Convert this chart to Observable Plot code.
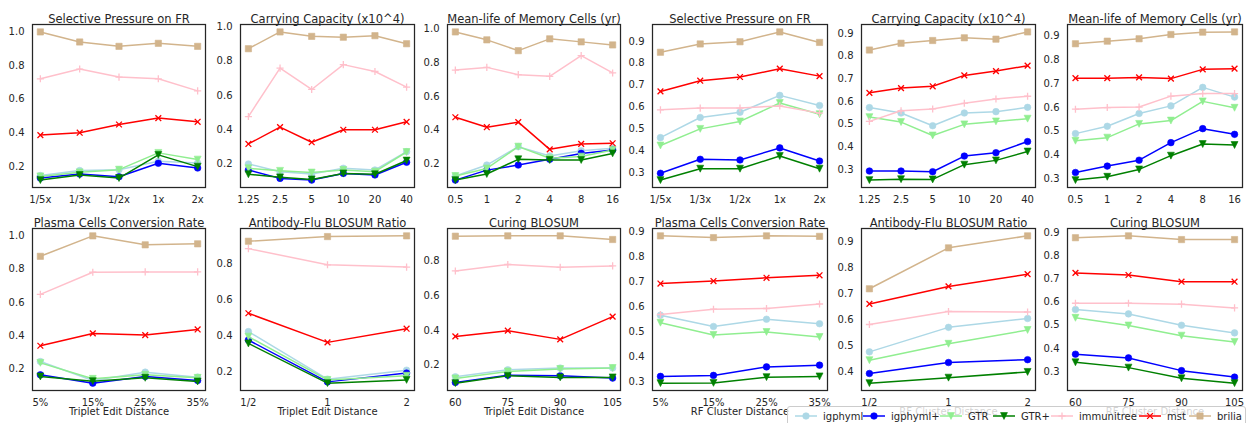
<!DOCTYPE html>
<html><head><meta charset="utf-8">
<script src="https://cdn.jsdelivr.net/npm/d3@7"></script>
<script src="https://cdn.jsdelivr.net/npm/@observablehq/plot@0.6"></script>
<style>
html,body{margin:0;padding:0;background:#fff;overflow:hidden;}
#root{position:relative;width:1248px;height:423px;font-family:"DejaVu Sans",sans-serif;overflow:hidden;}
.panel{position:absolute;}
</style></head><body><div id="root"></div>
<script>
// ---- series ----
const seriesNames = ["igphyml","igphyml+","GTR","GTR+","immunitree","mst","brilia"];
const seriesColors = ["#add8e6","#0000ff","#90ee90","#008000","#ffc0cb","#ff0000","#d2b48c"];
const seriesMarkers = ["circle","circle","triDown","triDown","plus","times","square"];

// ---- categories ----
const catsFR = ["1/5x","1/3x","1/2x","1x","2x"];
const catsCC = ["1.25","2.5","5","10","20","40"];
const catsML = ["0.5","1","2","4","8","16"];
const catsPC = ["5%","15%","25%","35%"];
const catsAF = ["1/2","1","2"];
const catsCB = ["60","75","90","105"];

// ---- titles / axis labels ----
const titlesTop = ["Selective Pressure on FR","Carrying Capacity (x10^4)","Mean-life of Memory Cells (yr)"];
const titlesBottom = ["Plasma Cells Conversion Rate","Antibody-Flu BLOSUM Ratio","Curing BLOSUM"];
const xLabelTriplet = "Triplet Edit Distance";
const xLabelRF = "RF Cluster Distance";

// ---- y tick values ----
const ticks02to10 = [0.2,0.4,0.6,0.8,1.0];
const ticks02to08 = [0.2,0.4,0.6,0.8];
const ticks03to09 = [0.3,0.4,0.5,0.6,0.7,0.8,0.9];
const ticks04to09 = [0.4,0.5,0.6,0.7,0.8,0.9];

// ---- values (rows in series order: igphyml, igphyml+, GTR, GTR+, immunitree, mst, brilia) ----
const tripletFR = [
  [0.145,0.175,0.18,0.23,0.22],
  [0.13,0.154,0.138,0.218,0.19],
  [0.14,0.164,0.18,0.28,0.24],
  [0.118,0.148,0.13,0.268,0.198],
  [0.721,0.779,0.731,0.721,0.649],
  [0.386,0.40,0.449,0.487,0.465],
  [1.0,0.94,0.914,0.932,0.914]
];
const tripletCC = [
  [0.2,0.155,0.142,0.175,0.165,0.272],
  [0.165,0.116,0.106,0.145,0.136,0.21],
  [0.175,0.16,0.15,0.165,0.155,0.27],
  [0.14,0.122,0.11,0.145,0.14,0.22],
  [0.477,0.76,0.635,0.78,0.74,0.649],
  [0.317,0.415,0.327,0.40,0.40,0.446],
  [0.873,0.971,0.945,0.94,0.949,0.902]
];
const tripletML = [
  [0.129,0.194,0.303,0.248,0.279,0.293],
  [0.105,0.164,0.194,0.228,0.263,0.283],
  [0.129,0.174,0.303,0.234,0.244,0.283],
  [0.105,0.141,0.228,0.224,0.224,0.263],
  [0.756,0.772,0.729,0.719,0.842,0.739],
  [0.477,0.418,0.448,0.287,0.319,0.323],
  [0.982,0.935,0.871,0.941,0.923,0.905]
];
const rfFR = [
  [0.46,0.552,0.576,0.653,0.607],
  [0.297,0.361,0.358,0.413,0.353],
  [0.424,0.5,0.534,0.618,0.567],
  [0.266,0.318,0.318,0.376,0.318],
  [0.587,0.595,0.595,0.605,0.572],
  [0.671,0.72,0.737,0.775,0.741],
  [0.85,0.888,0.898,0.943,0.895]
];
const rfCC = [
  [0.573,0.549,0.493,0.549,0.555,0.574],
  [0.293,0.293,0.29,0.359,0.374,0.423],
  [0.531,0.509,0.45,0.499,0.512,0.524],
  [0.253,0.257,0.256,0.321,0.34,0.379],
  [0.512,0.559,0.567,0.592,0.611,0.623],
  [0.638,0.659,0.667,0.715,0.734,0.758],
  [0.827,0.857,0.869,0.881,0.875,0.907]
];
const rfML = [
  [0.489,0.52,0.574,0.606,0.684,0.643],
  [0.325,0.352,0.377,0.451,0.51,0.486],
  [0.459,0.472,0.53,0.544,0.625,0.598],
  [0.293,0.307,0.338,0.396,0.445,0.441],
  [0.592,0.599,0.601,0.647,0.658,0.658],
  [0.723,0.723,0.726,0.721,0.76,0.763],
  [0.868,0.879,0.889,0.907,0.917,0.918]
];
const tripletPC = [
  [0.244,0.13,0.18,0.15],
  [0.164,0.114,0.154,0.13],
  [0.236,0.14,0.164,0.146],
  [0.154,0.126,0.146,0.124],
  [0.648,0.781,0.783,0.783],
  [0.339,0.413,0.403,0.437],
  [0.877,1.0,0.946,0.952]
];
const tripletAF = [
  [0.424,0.159,0.209],
  [0.377,0.144,0.193],
  [0.396,0.155,0.178],
  [0.358,0.137,0.155],
  [0.886,0.796,0.783],
  [0.526,0.364,0.44],
  [0.927,0.953,0.957]
];
const tripletCB = [
  [0.133,0.173,0.183,0.183],
  [0.1,0.142,0.138,0.125],
  [0.123,0.163,0.177,0.183],
  [0.096,0.138,0.129,0.129],
  [0.742,0.779,0.763,0.771],
  [0.365,0.398,0.348,0.479],
  [0.942,0.944,0.944,0.923]
];
const rfPC = [
  [0.565,0.52,0.549,0.531],
  [0.32,0.324,0.358,0.365],
  [0.535,0.486,0.498,0.478],
  [0.293,0.294,0.317,0.32],
  [0.568,0.589,0.592,0.61],
  [0.692,0.702,0.715,0.725],
  [0.883,0.876,0.883,0.881]
];
const rfAF = [
  [0.477,0.571,0.605],
  [0.394,0.436,0.447],
  [0.445,0.508,0.561],
  [0.357,0.378,0.4],
  [0.582,0.632,0.63],
  [0.661,0.728,0.775],
  [0.719,0.876,0.922]
];
const rfCB = [
  [0.568,0.549,0.5,0.467],
  [0.375,0.359,0.304,0.276],
  [0.532,0.499,0.455,0.428],
  [0.34,0.317,0.271,0.25],
  [0.595,0.595,0.591,0.575],
  [0.726,0.717,0.688,0.688],
  [0.878,0.886,0.87,0.87]
];

// ---- marker shapes ----
const symbols = {
  circle: {draw(c, size){const r=Math.sqrt(size/Math.PI); c.moveTo(r,0); c.arc(0,0,r,0,2*Math.PI);}},
  square: {draw(c, size){const r=Math.sqrt(size/Math.PI)*0.95; c.rect(-r,-r,2*r,2*r);}},
  triDown: {draw(c, size){const r=Math.sqrt(size/Math.PI)*1.05; c.moveTo(0,r); c.lineTo(r,-r); c.lineTo(-r,-r); c.closePath();}},
  plus: {draw(c, size){const r=Math.sqrt(size/Math.PI)*1.05; c.moveTo(-r,0); c.lineTo(r,0); c.moveTo(0,-r); c.lineTo(0,r);}},
  times: {draw(c, size){const r=Math.sqrt(size/Math.PI)*0.85; c.moveTo(-r,-r); c.lineTo(r,r); c.moveTo(-r,r); c.lineTo(r,-r);}}
};

const panels = [
  {title: titlesTop[0], cats: catsFR, vals: tripletFR, ticks: ticks02to10, xlabel: null},
  {title: titlesTop[1], cats: catsCC, vals: tripletCC, ticks: ticks02to10, xlabel: null},
  {title: titlesTop[2], cats: catsML, vals: tripletML, ticks: ticks02to10, xlabel: null},
  {title: titlesTop[0], cats: catsFR, vals: rfFR, ticks: ticks03to09, xlabel: null},
  {title: titlesTop[1], cats: catsCC, vals: rfCC, ticks: ticks03to09, xlabel: null},
  {title: titlesTop[2], cats: catsML, vals: rfML, ticks: ticks03to09, xlabel: null},
  {title: titlesBottom[0], cats: catsPC, vals: tripletPC, ticks: ticks02to10, xlabel: xLabelTriplet},
  {title: titlesBottom[1], cats: catsAF, vals: tripletAF, ticks: ticks02to08, xlabel: xLabelTriplet},
  {title: titlesBottom[2], cats: catsCB, vals: tripletCB, ticks: ticks02to08, xlabel: xLabelTriplet},
  {title: titlesBottom[0], cats: catsPC, vals: rfPC, ticks: ticks03to09, xlabel: xLabelRF},
  {title: titlesBottom[1], cats: catsAF, vals: rfAF, ticks: ticks04to09, xlabel: xLabelRF},
  {title: titlesBottom[2], cats: catsCB, vals: rfCB, ticks: ticks03to09, xlabel: xLabelRF}
];

// frame placement (layout)
const colBounds = [[32,205],[240,414],[447,620],[652,827],[861,1035],[1067,1242]];
const rowBounds = [[24,187],[228,390]];
const ink = "#262626";
const root = document.getElementById("root");

panels.forEach((p, k) => {
  const [x0, x1] = colBounds[k % 6];
  const [y0, y1] = rowBounds[Math.floor(k / 6)];
  const mL = 40, mR = 8, mT = 24, mB = 36;
  const n = p.cats.length;
  const all = p.vals.flat();
  const lo = d3.min(all), hi = d3.max(all), pad = (hi - lo) * 0.05;
  const xm = (n - 1) * 0.05;
  const marks = [];
  p.vals.forEach((arr, s) => {
    const data = arr.map((v, i) => ({i, v}));
    const m = seriesMarkers[s];
    const stroked = m === "plus" || m === "times";
    marks.push(Plot.line(data, {x: "i", y: "v", stroke: seriesColors[s], strokeWidth: 1.5}));
    marks.push(Plot.dot(data, {
      x: "i", y: "v", symbol: symbols[m], r: stroked ? 3.4 : 3.3,
      fill: stroked ? "none" : seriesColors[s],
      stroke: seriesColors[s], strokeWidth: stroked ? 1.3 : 0.6
    }));
  });
  marks.push(Plot.frame({stroke: ink, strokeWidth: 1.25}));
  marks.push(Plot.text([p.title], {text: d => d, frameAnchor: "top", dy: -9.5, fontSize: 11.5, fill: ink}));
  if (p.xlabel) marks.push(Plot.text([p.xlabel], {text: d => d, frameAnchor: "bottom", dy: 24, fontSize: 10, fill: ink}));
  const svg = Plot.plot({
    width: (x1 - x0) + mL + mR,
    height: (y1 - y0) + mT + mB,
    marginLeft: mL, marginRight: mR, marginTop: mT, marginBottom: mB,
    style: {fontFamily: "'DejaVu Sans', sans-serif", fontSize: "10px", color: ink, background: "transparent", overflow: "visible", maxWidth: "none"},
    x: {type: "linear", domain: [-xm, n - 1 + xm], ticks: p.cats.map((_, i) => i), tickFormat: i => p.cats[i], tickSize: 0, tickPadding: 8, label: null},
    y: {type: "linear", domain: [lo - pad, hi + pad], ticks: p.ticks, tickFormat: d3.format(".1f"), tickSize: 0, tickPadding: 8, label: null},
    marks
  });
  const div = document.createElement("div");
  div.className = "panel";
  div.style.left = (x0 - mL) + "px";
  div.style.top = (y0 - mT) + "px";
  div.style.width = ((x1 - x0) + mL + mR) + "px";
  div.appendChild(svg);
  root.appendChild(div);
});

// ---- legend ----
const legendMarkerX = [806, 874, 951, 1004, 1062, 1150, 1200];
const lg = document.createElement("div");
lg.style.cssText = "position:absolute;left:787px;top:406px;width:459px;height:22px;background:rgba(255,255,255,0.8);border:1px solid #cccccc;border-radius:3px;box-sizing:border-box;";
root.appendChild(lg);
const lsvg = d3.select(lg).append("svg").attr("width", 459).attr("height", 22).style("position","absolute").style("left","-1px").style("top","-1px").style("overflow","visible");
const cy = 10;
seriesNames.forEach((name, s) => {
  const mx = legendMarkerX[s] - 787;
  const m = seriesMarkers[s];
  const stroked = m === "plus" || m === "times";
  lsvg.append("line").attr("x1", mx - 11).attr("x2", mx + 11).attr("y1", cy).attr("y2", cy)
    .attr("stroke", seriesColors[s]).attr("stroke-width", 1.5);
  const r = stroked ? 3.4 : 3.3;
  lsvg.append("path").attr("transform", `translate(${mx},${cy})`)
    .attr("d", d3.symbol(symbols[m], Math.PI * r * r)())
    .attr("fill", stroked ? "none" : seriesColors[s])
    .attr("stroke", seriesColors[s]).attr("stroke-width", stroked ? 1.3 : 0.6);
  lsvg.append("text").attr("x", mx + 17).attr("y", cy).attr("dy", "0.35em")
    .attr("font-family", "'DejaVu Sans', sans-serif").attr("font-size", 10).attr("fill", ink).text(name);
});
</script></body></html>
